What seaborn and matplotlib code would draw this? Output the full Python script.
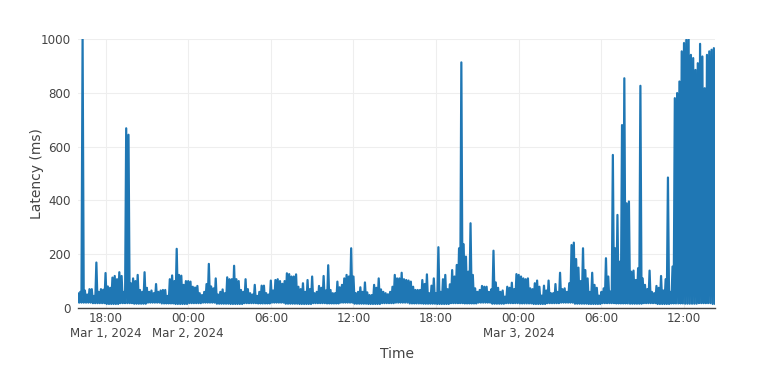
import pandas as pd
import numpy as np
import matplotlib
matplotlib.use("Agg")
import matplotlib.pyplot as plt
import seaborn as sns

# ---- data (10-minute peaks, hourly troughs) ----
start_time = "2024-03-01 16:00"

peaks_mar1 = [
    55, 60, 1000, 65, 50, 70,      # 16h
    70, 45, 169, 60, 70, 68,       # 17h
    130, 80, 75, 113, 119, 107,    # 18h
    133, 119, 60, 668, 644, 92,    # 19h
    110, 100, 123, 67, 60, 133,    # 20h
    75, 60, 65, 55, 89, 60,        # 21h
    65, 67, 67, 45, 107, 121,      # 22h
    100, 220, 123, 120, 86, 100,   # 23h
]
peaks_mar2 = [
    100, 98, 79, 76, 82, 55,       # 00h
    48, 60, 89, 164, 80, 73,       # 01h
    110, 50, 60, 69, 55, 114,      # 02h
    107, 107, 157, 107, 100, 67,   # 03h
    60, 107, 70, 55, 50, 86,       # 04h
    45, 60, 83, 83, 55, 50,        # 05h
    102, 65, 104, 107, 100, 90,    # 06h
    100, 129, 126, 117, 117, 125,  # 07h
    79, 70, 92, 60, 104, 70,       # 08h
    117, 55, 60, 82, 75, 119,      # 09h
    65, 159, 67, 55, 55, 98,       # 10h
    77, 86, 110, 123, 117, 222,    # 11h
    117, 55, 60, 77, 60, 95,       # 12h
    58, 48, 48, 86, 75, 110,       # 13h
    69, 60, 55, 51, 60, 79,        # 14h
    123, 110, 110, 131, 107, 104,  # 15h
    102, 98, 79, 67, 67, 67,       # 16h
    104, 89, 125, 55, 83, 110,     # 17h
    55, 226, 60, 107, 123, 70,     # 18h
    88, 141, 117, 160, 222, 913,   # 19h
    237, 191, 135, 315, 123, 73,   # 20h
    60, 67, 82, 79, 79, 60,        # 21h
    69, 213, 95, 75, 60, 65,       # 22h
    42, 79, 75, 94, 70, 126,       # 23h
]
peaks_mar3 = [
    123, 117, 110, 107, 110, 73,   # 00h
    70, 92, 102, 79, 46, 83,       # 01h
    65, 102, 55, 55, 89, 60,       # 02h
    131, 70, 73, 60, 92, 234,      # 03h
    243, 182, 150, 100, 222, 141,  # 04h
    110, 60, 131, 86, 75, 46,      # 05h
    60, 73, 185, 117, 61, 569,     # 06h
    222, 346, 172, 680, 854, 389,  # 07h
    396, 135, 139, 104, 148, 826,  # 08h
    110, 86, 70, 139, 60, 55,      # 09h
    82, 75, 119, 65, 107, 485,     # 10h
    60, 154, 780, 799, 842, 954,   # 11h
    985, 997, 1000, 941, 929, 885, # 12h
    910, 982, 935, 817, 941, 954,  # 13h
    960, 966,                      # 14h
]
hourly_troughs = [
    20, 18, 15, 18, 16, 20, 17, 15,
    18, 20, 16, 15, 18, 17, 20, 16, 15, 18, 17, 20, 16, 15, 18, 20, 17, 16, 15, 18, 17, 20, 16, 18,
    17, 15, 18, 20, 16, 15, 18, 17, 16, 18, 15, 17, 16, 18, 15,
]

tick_times = ["2024-03-01 18:00", "2024-03-02 00:00", "2024-03-02 06:00", "2024-03-02 12:00",
              "2024-03-02 18:00", "2024-03-03 00:00", "2024-03-03 06:00", "2024-03-03 12:00"]
tick_labels = ["18:00\nMar 1, 2024", "00:00\nMar 2, 2024", "06:00", "12:00",
               "18:00", "00:00\nMar 3, 2024", "06:00", "12:00"]
y_ticks = [0, 200, 400, 600, 800, 1000]

# ---- build the series: each 10-min peak followed by a trough 5 min later ----
peaks = peaks_mar1 + peaks_mar2 + peaks_mar3
t0 = pd.Timestamp(start_time)
times, vals = [], []
for i, p in enumerate(peaks):
    t = t0 + pd.Timedelta(minutes=10 * i)
    times.append(t)
    vals.append(p)
    times.append(t + pd.Timedelta(minutes=5))
    vals.append(hourly_troughs[i // 6])
df = pd.DataFrame({"Time": times, "Latency (ms)": vals})

# ---- style ----
sns.set_theme(style="white")
plt.rcParams["font.family"] = ["DejaVu Sans"]
txt = "#444444"

fig = plt.figure(figsize=(7.6, 3.86), dpi=100)
ax = fig.add_axes([78 / 760, 1 - 308 / 386, (715 - 78) / 760, (308 - 39) / 386])

sns.lineplot(data=df, x="Time", y="Latency (ms)", ax=ax, color="#1f77b4",
             linewidth=1.6, estimator=None, sort=True)

ax.set_xlim(df["Time"].iloc[0], df["Time"].iloc[-1])
ax.set_ylim(0, 1000)

ax.set_xticks(pd.to_datetime(tick_times))
ax.set_xticklabels(tick_labels, fontsize=8.6, color=txt, linespacing=1.15)
ax.set_yticks(y_ticks)
ax.set_yticklabels([str(v) for v in y_ticks], fontsize=8.6, color=txt)
ax.tick_params(axis="both", length=0)
ax.tick_params(axis="x", pad=3)
ax.tick_params(axis="y", pad=5)

ax.grid(True, color="#eeeeee", linewidth=0.8)
ax.set_axisbelow(True)
for s in ["top", "right", "left"]:
    ax.spines[s].set_visible(False)
ax.spines["bottom"].set_color(txt)
ax.spines["bottom"].set_linewidth(1.0)

ax.set_xlabel("Time", fontsize=10.0, color=txt, labelpad=5)
ax.set_ylabel("Latency (ms)", fontsize=10.0, color=txt)
ax.yaxis.set_label_coords(-0.0534, 0.5)

fig.savefig("out.png", dpi=100)
